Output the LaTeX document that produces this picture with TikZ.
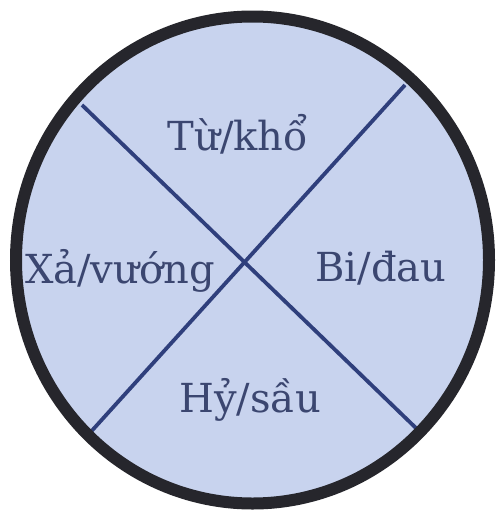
\documentclass[tikz,border=0pt]{standalone}
\usepackage{fontspec}
\setmainfont{DejaVu Serif}
\usetikzlibrary{shapes.geometric}
\definecolor{diskfill}{HTML}{C8D3EE}
\definecolor{rimcol}{HTML}{26262C}
\definecolor{linecol}{HTML}{2F3F7C}
\definecolor{textcol}{HTML}{3B4670}
\tikzset{
  quadtext/.style={anchor=base, text=textcol, font=\fontsize{40}{44}\selectfont, inner sep=0pt},
  divider/.style={draw=linecol, line width=3.8pt},
  diskshape/.style={ellipse, minimum width=473pt, minimum height=487pt, line width=12pt, inner sep=0pt}
}
\begin{document}
\begin{tikzpicture}[x=1pt,y=-1pt]
\useasboundingbox[fill=white] (0,0) rectangle (500,517);
\node[diskshape, fill=diskfill] (disk) at (252.5,260) {};
\coordinate (tl) at (82,105);
\coordinate (br) at (418,430);
\coordinate (tr) at (405,85);
\coordinate (bl) at (88,435);
\draw[divider] (tl) -- (br);
\draw[divider] (tr) -- (bl);
\node[diskshape, draw=rimcol] (rim) at (252.5,260) {};
\node[quadtext] (tu) at (238,150) {Từ/khổ};
\node[quadtext] (xa) at (120,283) {Xả/vướng};
\node[quadtext] (bi) at (381,281) {Bi/đau};
\node[quadtext] (hy) at (250,412) {Hỷ/sầu};
\end{tikzpicture}
\end{document}
